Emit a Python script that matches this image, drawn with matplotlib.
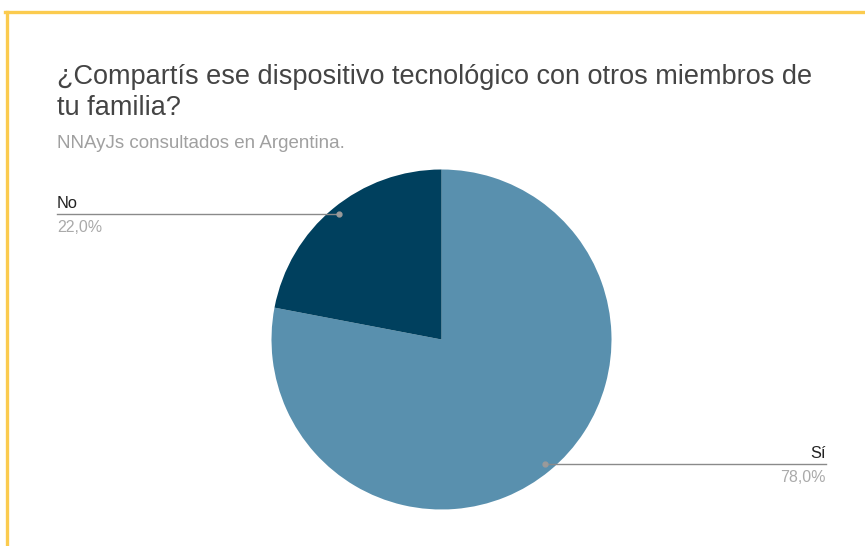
import matplotlib
matplotlib.use("Agg")
import matplotlib.pyplot as plt
from matplotlib.lines import Line2D

categories = ["Sí", "No"]
values = [78.0, 22.0]
pct_labels = ["78,0%", "22,0%"]
colors = ["#5990AE", "#00405E"]

title_lines = ["¿Compartís ese dispositivo tecnológico con otros miembros de", "tu familia?"]
subtitle = "NNAyJs consultados en Argentina."

W, H = 865, 546
fig = plt.figure(figsize=(W / 100, H / 100), dpi=100)
ax = fig.add_axes([0, 0, 1, 1])

def Y(y):
    return H - y

font = "Liberation Sans"

# yellow frame (top and left)
fig.add_artist(Line2D([6.5 / W, 6.5 / W], [0, Y(11.5) / H], color="#FBCB4E", lw=2.4, transform=fig.transFigure))
fig.add_artist(Line2D([5.3 / W, 1], [Y(11.5) / H, Y(11.5) / H], color="#FBCB4E", lw=2.4, transform=fig.transFigure))

cx, cy, r = 441.5, 339.5, 170
ax.pie(values, colors=colors, startangle=90, counterclock=False,
       center=(cx, Y(cy)), radius=r, frame=True,
       wedgeprops=dict(linewidth=0))
ax.set_xlim(0, W)
ax.set_ylim(0, H)
ax.set_aspect("equal")
ax.axis("off")

ax.text(57, Y(84), title_lines[0], fontsize=19.5, color="#444444", family=font,
        va="baseline", ha="left")
ax.text(57, Y(115), title_lines[1], fontsize=19.5, color="#444444", family=font,
        va="baseline", ha="left")
ax.text(57, Y(143), subtitle, fontsize=13.5, color="#a0a0a0", family=font,
        va="center", ha="left")

# leader lines
# No
ax.plot([57, 339], [Y(213.5), Y(213.5)], color="#8a8a8a", lw=1.0)
ax.plot([339], [Y(213.5)], "o", color="#9a9a9a", ms=3.5)
ax.text(57, Y(203), categories[1], fontsize=11.8, color="#222222", family=font, va="center", ha="left")
ax.text(57, Y(227.5), pct_labels[1], fontsize=11.5, color="#aaaaaa", family=font, va="center", ha="left")
# Sí
ax.plot([545, 826], [Y(464), Y(464)], color="#8a8a8a", lw=1.0)
ax.plot([545], [Y(464)], "o", color="#9a9a9a", ms=3.5)
ax.text(826, Y(453), categories[0], fontsize=11.8, color="#222222", family=font, va="center", ha="right")
ax.text(826, Y(477.5), pct_labels[0], fontsize=11.5, color="#aaaaaa", family=font, va="center", ha="right")

fig.savefig("out.png", dpi=100)
